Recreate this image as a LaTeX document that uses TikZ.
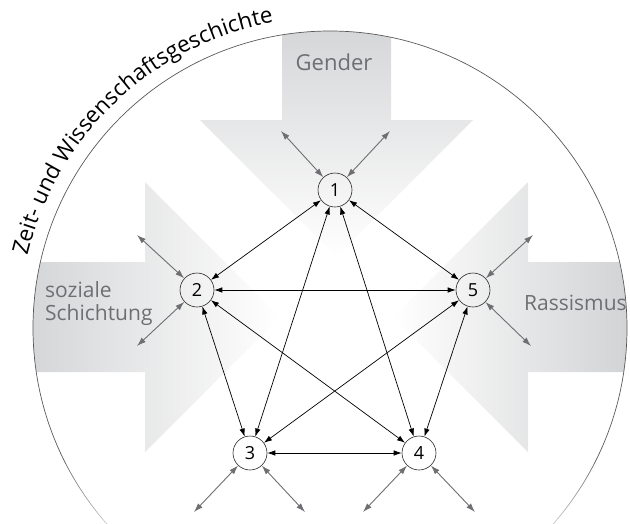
\documentclass[tikz,border=0pt]{standalone}
\usepackage{fontspec}
\setmainfont{Open Sans}
\usetikzlibrary{arrows.meta,decorations.text,fadings}

\definecolor{blockgrau}{RGB}{208,209,211}
\definecolor{textgrau}{RGB}{110,111,114}
\tikzfading[name=unten weg, top color=transparent!100, bottom color=transparent!0]

\begin{document}
\begin{tikzpicture}[x=1pt,y=1pt,
  knoten/.style={circle,draw=black!85,line width=0.6pt,minimum size=34pt,inner sep=0pt,font=\fontsize{18}{18}\selectfont},
  pfeil/.style={line width=0.7pt,{Latex[length=8pt,width=5.5pt]}-{Latex[length=8pt,width=5.5pt]}},
  aussen/.style={textgrau,line width=0.9pt,{Latex[length=9pt,width=6pt]}-{Latex[length=9pt,width=6pt]}},
  etikett/.style={textgrau,inner sep=0pt,font=\fontsize{21}{23.5}\selectfont}]
  \useasboundingbox (0,0) rectangle (630,-523);

  % grosse Pfeile
  \begin{scope}
    \clip (330,-328) circle[radius=297];
    \shade[top color=blockgrau,middle color=blockgrau!85,bottom color=white]
      (282,0) -- (282,-120) -- (200,-120) -- (336.5,-256.5) -- (473,-120) -- (391,-120) -- (391,0) -- cycle;
    \shade[left color=blockgrau,middle color=blockgrau!85,right color=white]
      (0,-262) -- (145,-262) -- (145,-182) -- (280,-317) -- (145,-452) -- (145,-372) -- (0,-372) -- cycle;
    \shade[right color=blockgrau,middle color=blockgrau!85,left color=white]
      (640,-262) -- (528,-262) -- (528,-182) -- (393,-317) -- (528,-452) -- (528,-372) -- (640,-372) -- cycle;
  \end{scope}

  \draw[black!65,line width=0.7pt] (330,-328) circle[radius=297];
  \fill[white,path fading=unten weg] (0,-455) rectangle (640,-555);

  \path[decorate,decoration={text along path,text align=center,
      text={|\fontsize{22.5}{24}\selectfont|Zeit- und Wissenschaftsgeschichte}}]
    (330,-328) ++(168:311) arc[start angle=168,end angle=99,radius=311];

  \node[etikett,font=\fontsize{22}{24}\selectfont,anchor=base] (gender) at (334,-70) {Gender};
  \node[etikett,anchor=north west,align=left] (schicht) at (45,-281) {soziale\\Schichtung};
  \node[etikett,anchor=base west] (rassismus) at (524,-310) {Rassismus};

  % Knoten
  \node[knoten] (n1) at (335,-190) {1};
  \node[knoten] (n2) at (197,-290) {2};
  \node[knoten] (n3) at (250,-453) {3};
  \node[knoten] (n4) at (419,-453) {4};
  \node[knoten] (n5) at (473,-290) {5};

  \coordinate (n1a) at (281,-131);
  \coordinate (n1b) at (390,-131);
  \coordinate (n2a) at (137,-235);
  \coordinate (n2b) at (137,-346);
  \coordinate (n5a) at (533,-235);
  \coordinate (n5b) at (531,-346);
  \coordinate (n3a) at (194,-512);
  \coordinate (n3b) at (305,-512);
  \coordinate (n4a) at (363,-512);
  \coordinate (n4b) at (475,-512);

  \foreach \k in {n1,n2,n3,n4,n5}{
    \draw[aussen] (\k) -- (\k a);
    \draw[aussen] (\k) -- (\k b);
  }

  \foreach \a/\b in {n1/n2,n1/n3,n1/n4,n1/n5,n2/n3,n2/n4,n2/n5,n3/n4,n3/n5,n4/n5}
    \draw[pfeil] (\a) -- (\b);
\end{tikzpicture}
\end{document}
